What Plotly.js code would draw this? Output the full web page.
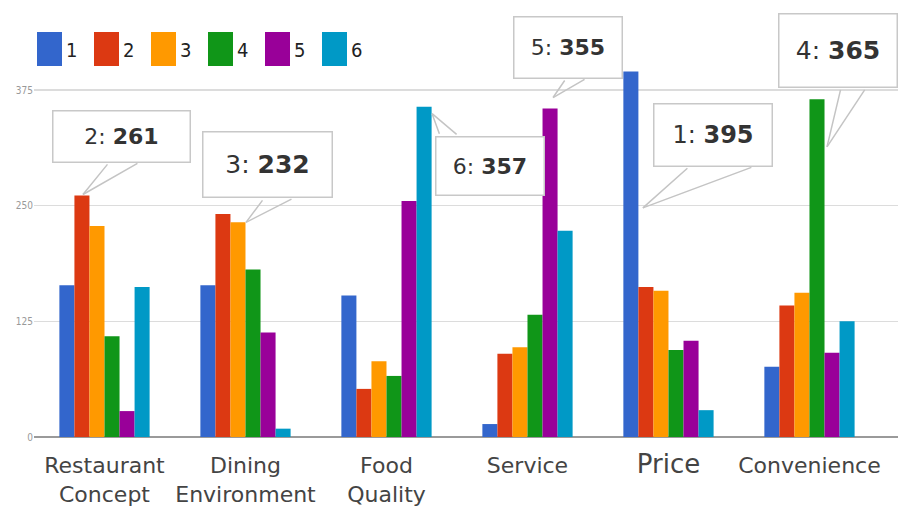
<!DOCTYPE html>
<html>
<head>
<meta charset="utf-8">
<script src="https://cdn.plot.ly/plotly-3.0.1.min.js"></script>
<style>html,body{margin:0;padding:0;background:#fff;}#chart{width:907px;height:510px;}</style>
</head>
<body>
<div id="chart"></div>
<script>
// ---- data ----
const categories = ['Restaurant Concept', 'Dining Environment', 'Food Quality', 'Service', 'Price', 'Convenience'];
const tickLabels = ['Restaurant<br>Concept', 'Dining<br>Environment', 'Food<br>Quality', 'Service', '<span style="font-size:26px">Price</span>', 'Convenience'];
const seriesNames = ['1', '2', '3', '4', '5', '6'];
const series1 = [164, 164, 153, 14, 395, 76];
const series2 = [261, 241, 52, 90, 162, 142];
const series3 = [228, 232, 82, 97, 158, 156];
const series4 = [109, 181, 66, 132, 94, 365];
const series5 = [28, 113, 255, 355, 104, 91];
const series6 = [162, 9, 357, 223, 29, 125];
const yTickVals = [0, 125, 250, 375];
const yTickText = ['0', '125', '250', '375'];

// ---- styles ----
const allSeries = [series1, series2, series3, series4, series5, series6];
const colors = ['#3366cc', '#dc3912', '#ff9900', '#109618', '#990099', '#0099c6'];
const M = {l: 34, r: 9, t: 0, b: 73};
const W = 907 - M.l - M.r, H = 510 - M.t - M.b;
const bargap = 0.36;

const traces = allSeries.map((vals, i) => ({
  type: 'bar', name: seriesNames[i], x: categories, y: vals,
  marker: {color: colors[i]}, hoverinfo: 'x+y+name'
}));

// callouts: series index, category index, where the pointer tip sits, box geometry (pixels)
const callouts = [
  {s: 1, c: 0, frac: 1, tdx: 1, tdy: -1, bdx: 38.5, bdy: -58.5, w: 139, h: 53, wb: [[-12.5, 26.5], [17.5, 26.5]], size: 22},
  {s: 2, c: 1, frac: 1, tdx: 8, tdy: 0, bdx: 22, bdy: -57.5, w: 131, h: 67, wb: [[-4, 33.5], [25, 33.5]], size: 25},
  {s: 5, c: 2, frac: 1, tdx: 8, tdy: 7, bdx: 58, bdy: 52, w: 110, h: 60, wb: [[-50, -30], [-32, -30]], size: 22},
  {s: 4, c: 3, frac: 1, tdx: 3, tdy: -11, bdx: 15, bdy: -50.5, w: 110, h: 63, wb: [[-2, 31.5], [18, 31.5]], size: 22},
  {s: 0, c: 4, frac: 0.627, tdx: 12, tdy: 0, bdx: 70, bdy: -73, w: 120, h: 64, wb: [[-24, 32], [40, 32]], size: 24},
  {s: 3, c: 5, frac: 0.859, tdx: 10, tdy: 0, bdx: 11, bdy: -96.5, w: 120, h: 75, wb: [[3, 37.5], [28, 37.5]], size: 25}
];

const annotations = [];
const shapes = [];
callouts.forEach(co => {
  const val = allSeries[co.s][co.c];
  const x = co.c + (co.s - 2.5) * (1 - bargap) / 6;
  const y = val * co.frac;
  co.wb.forEach(p => {
    annotations.push({
      x: x, y: y, xref: 'x', yref: 'y', xshift: co.tdx, yshift: -co.tdy,
      text: ' ', font: {size: 1}, showarrow: true, arrowhead: 0, arrowwidth: 1.5,
      arrowcolor: '#c4c4c4', ax: co.bdx + p[0], ay: co.bdy + p[1], standoff: 0, startstandoff: 0
    });
  });
  annotations.push({
    x: x, y: y, xref: 'x', yref: 'y', xshift: co.tdx + co.bdx, yshift: -(co.tdy + co.bdy),
    text: seriesNames[co.s] + ': <b>' + val + '</b>', showarrow: false,
    font: {family: 'DejaVu Sans', size: co.size, color: '#333'},
    bgcolor: '#ffffff', bordercolor: '#c8c8c8', borderwidth: 1.5, borderpad: 0,
    width: co.w - 3, height: co.h - 3, xanchor: 'center', yanchor: 'middle', align: 'center', valign: 'middle'
  });
});

// custom legend (swatches + labels) in paper coordinates
const px = v => (v - M.l) / W;
const py = v => (M.t + H - v) / H;
seriesNames.forEach((n, i) => {
  const x0 = 37 + 57 * i;
  shapes.push({type: 'rect', xref: 'paper', yref: 'paper', x0: px(x0), x1: px(x0 + 25), y0: py(66), y1: py(32),
    fillcolor: colors[i], line: {width: 0}, layer: 'above'});
  annotations.push({xref: 'paper', yref: 'paper', x: px(x0 + 34), y: py(50), text: n, showarrow: false,
    xanchor: 'center', yanchor: 'middle',
    font: {family: 'Liberation Sans Narrow, DejaVu Sans Condensed, DejaVu Sans', size: 20, color: '#222'}});
});

const layout = {
  width: 907, height: 510, margin: M,
  paper_bgcolor: '#ffffff', plot_bgcolor: '#ffffff',
  barmode: 'group', bargap: bargap, bargroupgap: 0,
  showlegend: false,
  xaxis: {type: 'category', tickvals: categories, ticktext: tickLabels, tickangle: 0, automargin: false,
    ticklabelstandoff: 13, showgrid: false, showline: false, ticks: '',
    tickfont: {family: 'DejaVu Sans', size: 22, color: '#444'}, fixedrange: true},
  yaxis: {range: [0, 472.3], tickvals: yTickVals, ticktext: yTickText, showgrid: true, gridcolor: '#dcdcdc', gridwidth: 1.5,
    zeroline: true, zerolinecolor: '#9a9a9a', zerolinewidth: 2, ticks: '', showline: false, automargin: false,
    tickfont: {family: 'DejaVu Sans Condensed, DejaVu Sans', size: 10, color: '#999'}, fixedrange: true},
  annotations: annotations,
  shapes: shapes
};

Plotly.newPlot('chart', traces, layout, {displayModeBar: false, staticPlot: true});
</script>
</body>
</html>
